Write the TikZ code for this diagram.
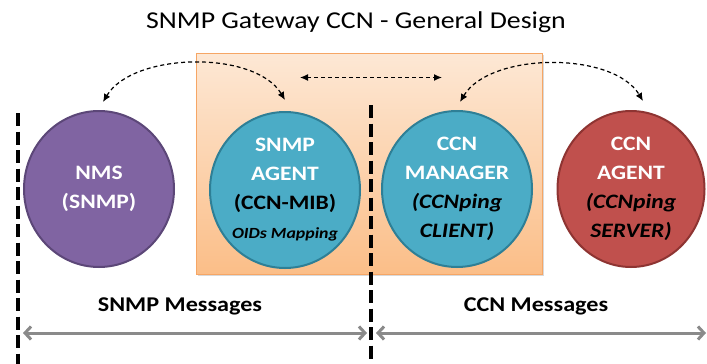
\documentclass[tikz,border=0pt]{standalone}
\usepackage{fontspec}
\setmainfont{Carlito}[FakeStretch=1.15]
\usetikzlibrary{arrows.meta,shapes.geometric,shadows}
\definecolor{cblue}{HTML}{4BACC6}
\definecolor{cbluedk}{HTML}{2E7F96}
\definecolor{cpurple}{HTML}{8064A2}
\definecolor{cpurpledk}{HTML}{5C4778}
\definecolor{cred}{HTML}{C0504D}
\definecolor{creddk}{HTML}{8E3432}
\definecolor{orgtop}{HTML}{FDE8D5}
\definecolor{orgbot}{HTML}{FBBE88}
\definecolor{orgline}{HTML}{F6A665}
\definecolor{arrgray}{HTML}{8A8A8A}
\begin{document}
\begin{tikzpicture}[x=1pt,y=-1pt,
  bubble/.style={ellipse, minimum width=150pt, minimum height=156pt, line width=2pt,
    align=center, font=\fontsize{20.5}{29}\selectfont\bfseries, text=white, inner sep=0pt},
  dcurve/.style={dashed, dash pattern=on 4pt off 3pt, line width=1.2pt, {Latex[length=8pt,width=7pt]}-{Latex[length=8pt,width=7pt]}},
  vdash/.style={line width=4.5pt, dash pattern=on 13pt off 5.5pt},
  garrow/.style={arrgray, line width=3pt, {Straight Barb[length=6pt,width=13pt,line width=3pt]}-{Straight Barb[length=6pt,width=13pt,line width=3pt]}},
  msg/.style={font=\fontsize{21}{24}\selectfont\bfseries, anchor=base},
  blk/.style={text=black}
]
\useasboundingbox (0,0) rectangle (707,364);
% title
\node[anchor=base, font=\fontsize{24.2}{27}\selectfont] (title) at (356,28) {SNMP Gateway CCN - General Design};
% gateway box
\node[draw=orgline, line width=1pt, top color=orgtop, bottom color=orgbot,
  minimum width=346pt, minimum height=221pt, inner sep=0pt,
  drop shadow={shadow xshift=1.5pt, shadow yshift=-1.5pt, opacity=0.3}] (gw) at (369,163.5) {};
% dashed separators
\coordinate (l1) at (18,113); \coordinate (l2) at (18,364);
\coordinate (m1) at (371,105); \coordinate (m2) at (371,364);
\draw[vdash] (l1) -- (l2);
\draw[vdash] (m1) -- (m2);
% circles
\node[bubble, fill=cpurple, draw=cpurpledk] (nms) at (99,189) {NMS\\(SNMP)};
\node[bubble, fill=cblue, draw=cbluedk] (ag) at (285,190) {SNMP\\AGENT\\\textcolor{black}{(CCN-MIB)}\\\textcolor{black}{\fontsize{15.5}{18}\selectfont\itshape OIDs Mapping}};
\node[bubble, fill=cblue, draw=cbluedk] (mgr) at (457,189) {CCN\\MANAGER\\\textcolor{black}{\itshape (CCNping}\\\textcolor{black}{\itshape CLIENT)}};
\node[bubble, fill=cred, draw=creddk, minimum width=147pt] (ccna) at (631,189) {CCN\\AGENT\\\textcolor{black}{\itshape (CCNping}\\\textcolor{black}{\itshape SERVER)}};
% dashed curved arrows
\draw[dcurve] ([shift={(4,-8)}]nms.north) .. controls +(30,-50) and +(-30,-50) .. ([shift={(0,-11)}]ag.north);
\draw[dcurve] ([shift={(-69,25)}]gw.north) -- ([shift={(73,25)}]gw.north);
\draw[dcurve] ([shift={(3,-8)}]mgr.north) .. controls +(30,-50) and +(-30,-50) .. ([shift={(12,-9)}]ccna.north);
% messages
\coordinate (a1) at (23,333); \coordinate (a2) at (367,333);
\coordinate (b1) at (376,333); \coordinate (b2) at (706,333);
\draw[garrow] (a1) -- (a2);
\draw[garrow] (b1) -- (b2);
\node[msg] (snmpmsg) at (180,311) {SNMP Messages};
\node[msg] (ccnmsg) at (536,311) {CCN Messages};
\end{tikzpicture}
\end{document}
